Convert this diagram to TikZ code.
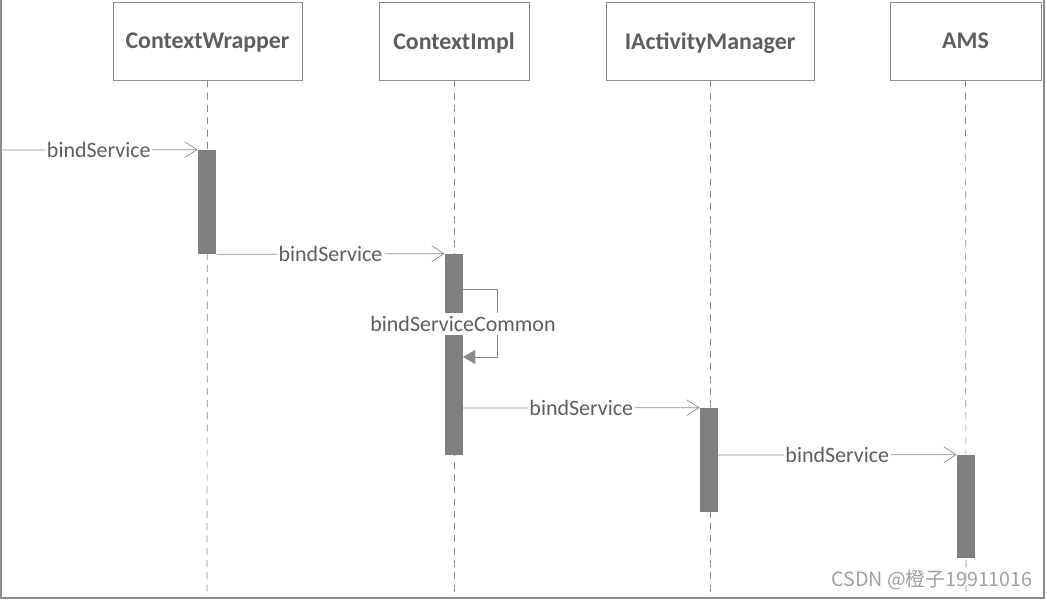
\documentclass[tikz,border=0pt]{standalone}
\usepackage{fontspec}
\setmainfont{Carlito}
\newfontfamily\cjk{Noto Sans CJK SC}
\usepackage{tikz}
\usetikzlibrary{arrows.meta,positioning}
\definecolor{LineGray}{HTML}{8C8C8C}
\definecolor{TextGray}{HTML}{5E5E5E}
\definecolor{ActFill}{HTML}{7F7F7F}
\definecolor{MarkGray}{HTML}{A0A0A0}

\begin{document}
\begin{tikzpicture}[
  x=0.02cm, y=-0.02cm,
  every node/.style={font=\fontsize{12.5}{14}\selectfont, text=TextGray},
  obj/.style={draw=LineGray, fill=white, minimum height=1.56cm, inner sep=0pt,
              text depth=0pt, font=\fontsize{13.6}{15}\selectfont\bfseries},
  act/.style={draw=none, fill=ActFill, minimum width=0.36cm, inner sep=0pt},
  life/.style={LineGray, dash pattern=on 4pt off 3pt},
  msg/.style={LineGray, -{Straight Barb[length=7pt,width=9pt]}},
  selfmsg/.style={LineGray, -{Triangle[length=7pt,width=8pt]}},
  lbl/.style={fill=white, inner sep=1pt},
  >=Stealth]
  \useasboundingbox (0,0) rectangle (1047,600);
  % frame
  \draw[LineGray, line width=0.8pt] (1,0) -- (1,598) -- (1044,598) -- (1044,0);

  % objects
  \node[obj, minimum width=3.78cm] (cw)  at (207.5,41) {ContextWrapper};
  \node[obj, minimum width=3.0cm]  (ci)  at (454,41)   {ContextImpl};
  \node[obj, minimum width=4.16cm] (iam) at (710,41)   {IActivityManager};
  \node[obj, minimum width=3.02cm] (ams) at (965.5,41) {AMS};

  % lifelines
  \coordinate (cwend)  at (207,598);
  \coordinate (ciend)  at (454,598);
  \coordinate (iamend) at (710,598);
  \coordinate (amsend) at (966,598);
  \draw[life] (cw)  -- (cwend);
  \draw[life] (ci)  -- (ciend);
  \draw[life] (iam) -- (iamend);
  \draw[life] (ams) -- (amsend);

  % activations
  \node[act, minimum height=2.08cm] (cwact)  at (207,202)   {};
  \node[act, minimum height=4.02cm] (ciact)  at (454,354.5) {};
  \node[act, minimum height=2.08cm] (iamact) at (709,460)   {};
  \node[act, minimum height=2.06cm] (amsact) at (966,506.5) {};

  % messages
  \coordinate (caller) at (0,150);
  \draw[msg] (caller) -- (cwact.north west) node[lbl, midway] {bindService};
  \draw[msg] (cwact.south east) -- (ciact.north west) node[lbl, midway] {bindService};
  \coordinate (selfout) at (463,289);
  \coordinate (selfin)  at (463,357);
  \draw[selfmsg] (selfout) -- ++(34,0) |- (selfin);
  \node[lbl, inner sep=2pt] (common) at (463,324) {bindServiceCommon};
  \coordinate (ciout) at (463,408);
  \draw[msg] (ciout) -- (iamact.north west) node[lbl, midway] {bindService};
  \coordinate (iamout) at (718,455);
  \draw[msg] (iamout) -- (amsact.north west) node[lbl, midway] {bindService};

  % watermark
  \node[text=MarkGray, font=\cjk\fontsize{11.2}{13}\selectfont] (mark) at (932,580) {CSDN @橙子19911016};
\end{tikzpicture}
\end{document}
